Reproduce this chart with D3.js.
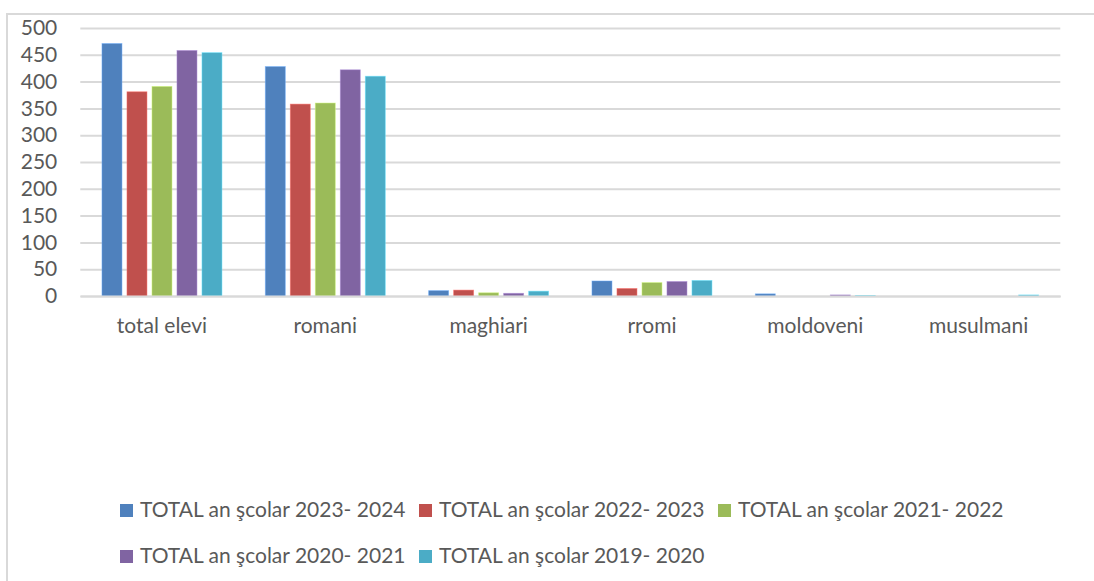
<!DOCTYPE html>
<html>
<head>
<meta charset="utf-8">
<script src="https://cdnjs.cloudflare.com/ajax/libs/d3/7.8.5/d3.min.js"></script>
<style>
  body { margin: 0; background: #fff; }
  text { font-family: Lato, "Open Sans", sans-serif; fill: #595959; }
</style>
</head>
<body>
<script>
// chart data
var categories = ["total elevi", "romani", "maghiari", "rromi", "moldoveni", "musulmani"];
var seriesNames = [
  "TOTAL an şcolar 2023- 2024",
  "TOTAL an şcolar 2022- 2023",
  "TOTAL an şcolar 2021- 2022",
  "TOTAL an şcolar 2020- 2021",
  "TOTAL an şcolar 2019- 2020"
];
var an2023 = [471, 428, 10, 28, 4, 0];
var an2022 = [381, 358, 11, 14, 0, 0];
var an2021 = [391, 360, 6, 25, 0, 0];
var an2020 = [458, 422, 5, 27, 2, 0];
var an2019 = [454, 410, 9, 29, 1, 2];
var yTicks = [0, 50, 100, 150, 200, 250, 300, 350, 400, 450, 500];
var colors = ["#4F81BD", "#C0504D", "#9BBB59", "#8064A2", "#4BACC6"];

var allSeries = [an2023, an2022, an2021, an2020, an2019];

var svgWidth = 1094;
var svgHeight = 581;

var svg = d3.select("body")
  .append("svg")
  .attr("width", svgWidth)
  .attr("height", svgHeight);

// chart border (runs past the right and bottom edge)
svg.append("rect")
  .attr("x", 7)
  .attr("y", 14)
  .attr("width", 1120)
  .attr("height", 600)
  .attr("fill", "none")
  .attr("stroke", "#d9d9d9")
  .attr("stroke-width", 2);

var plotLeft = 80.3, plotRight = 1060.3;

var x0 = d3.scaleBand()
  .domain(categories)
  .range([plotLeft, plotRight]);

var groupPad = (x0.bandwidth() - 120) / 2;
var x1 = d3.scaleBand()
  .domain(d3.range(seriesNames.length))
  .range([groupPad, x0.bandwidth() - groupPad])
  .paddingInner(0.2);

var y = d3.scaleLinear()
  .domain([0, 500])
  .range([296, 28]);

// gridlines + y labels
var yAxis = d3.axisLeft(y)
  .tickValues(yTicks)
  .tickSize(-(plotRight - plotLeft))
  .tickPadding(23);

var gy = svg.append("g")
  .attr("transform", "translate(" + plotLeft + ",0)")
  .call(yAxis);
gy.select(".domain").remove();
gy.selectAll("line")
  .attr("stroke", "#d9d9d9")
  .attr("stroke-width", 2);
gy.selectAll("text")
  .attr("font-size", 21)
  .style("font-family", "Lato, sans-serif")
  .attr("fill", "#595959");

// bars
var groups = svg.append("g")
  .selectAll("g")
  .data(categories)
  .enter()
  .append("g")
  .attr("transform", function(d) { return "translate(" + x0(d) + ",0)"; });

groups.selectAll("rect")
  .data(function(d, i) {
    return allSeries.map(function(s, j) { return { s: j, v: s[i] }; });
  })
  .enter()
  .append("rect")
  .attr("x", function(d) { return x1(d.s); })
  .attr("y", function(d) { return y(d.v); })
  .attr("width", x1.bandwidth())
  .attr("height", function(d) { return y(0) - y(d.v); })
  .attr("fill", function(d) { return colors[d.s]; })
  .attr("stroke", function(d) { return d.v > 0 ? d3.color(colors[d.s]).brighter(0.8) : "none"; })
  .attr("stroke-width", 0.8)
  .attr("stroke-opacity", 0.6);

// x axis
var xAxis = d3.axisBottom(x0).tickSize(0).tickPadding(22);
var gx = svg.append("g")
  .attr("transform", "translate(0," + y(0) + ")")
  .call(xAxis);
gx.select(".domain")
  .attr("stroke", "#d9d9d9")
  .attr("stroke-width", 2);
gx.selectAll("text")
  .attr("font-size", 21)
  .style("font-family", "Lato, sans-serif")
  .attr("fill", "#595959");

// legend
var legend = svg.append("g");
var items = legend.selectAll("g")
  .data(seriesNames)
  .enter()
  .append("g")
  .attr("transform", function(d, i) {
    var col = i % 3, row = Math.floor(i / 3);
    return "translate(" + (120 + col * 299) + "," + (504 + row * 46) + ")";
  });
items.append("rect")
  .attr("width", 13)
  .attr("height", 13)
  .attr("fill", function(d, i) { return colors[i]; });
items.append("text")
  .attr("x", 20)
  .attr("y", 13)
  .attr("font-size", 21)
  .text(function(d) { return d; });
</script>
</body>
</html>
